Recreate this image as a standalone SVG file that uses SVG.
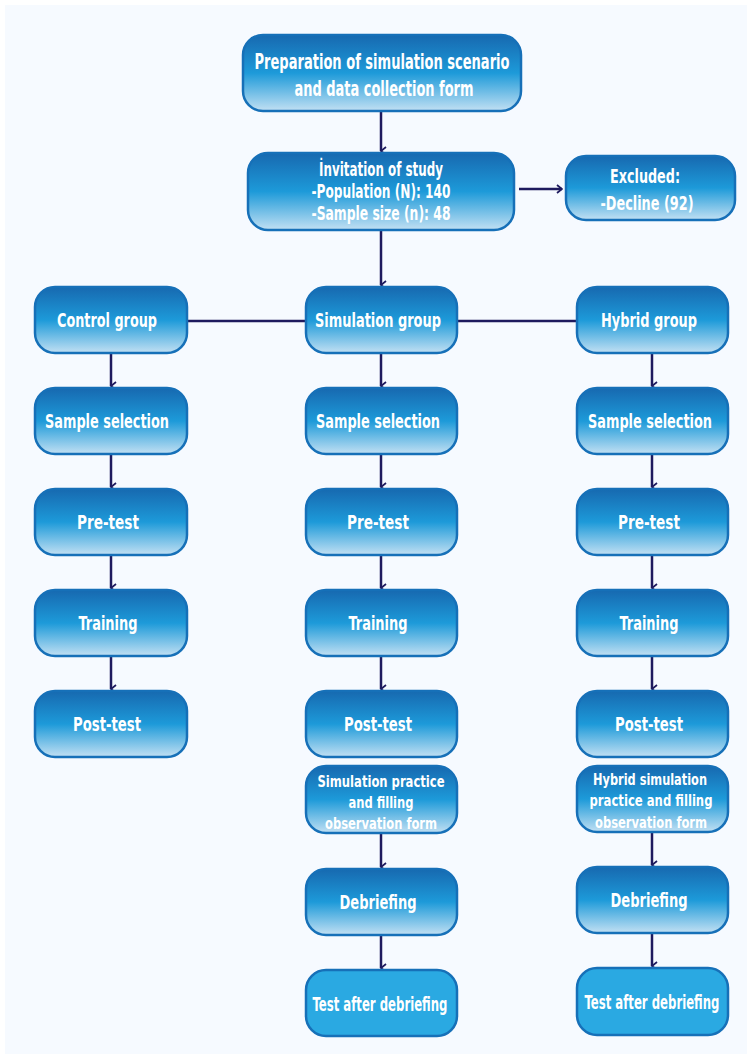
<svg xmlns="http://www.w3.org/2000/svg" width="752" height="1059" viewBox="0 0 752 1059">
<defs>
<linearGradient id="g" x1="0" y1="0" x2="0" y2="1">
<stop offset="0" stop-color="#1769b0"/>
<stop offset="0.5" stop-color="#1d9ad9"/>
<stop offset="1" stop-color="#c2e0f3"/>
</linearGradient>
<marker id="ah" viewBox="0 0 10 10" refX="5" refY="9" markerWidth="10" markerHeight="10" markerUnits="userSpaceOnUse" orient="auto-start-reverse">
<path d="M1,4 L5,9 L9,4" fill="none" stroke="#1e1a5e" stroke-width="1.8"/>
</marker>
<marker id="ahr" viewBox="0 0 10 10" refX="9" refY="5" markerWidth="10" markerHeight="10" markerUnits="userSpaceOnUse" orient="auto">
<path d="M4,1 L9,5 L4,9" fill="none" stroke="#1e1a5e" stroke-width="1.8"/>
</marker>
</defs>
<style>
.b{fill:url(#g);stroke:#1670b8;stroke-width:2.5}
.f{fill:#2aa9e2;stroke:#1670b8;stroke-width:2.5}
.t{font-family:"DejaVu Sans Condensed","DejaVu Sans",sans-serif;font-weight:bold;font-size:20px;fill:#ffffff;text-anchor:middle}
.s{font-size:16px}
.l{font-size:22px}
.c{stroke:#1e1a5e;stroke-width:2.5;fill:none}
.a{marker-end:url(#ah)}
</style>
<rect x="0" y="0" width="752" height="1059" fill="#ffffff"/>
<rect x="5" y="5" width="742" height="1049" fill="#f6faff"/>

<g id="connectors">
<path class="c a" d="M381,112 V151"/>
<path class="c a" d="M381,231 V285"/>
<path class="c" d="M519,189 H562" marker-end="url(#ahr)"/>
<path class="c" d="M187,321 H306 M457,321 H577"/>
<path class="c a" d="M111,353 V386"/>
<path class="c a" d="M111,454 V487"/>
<path class="c a" d="M111,555 V588"/>
<path class="c a" d="M111,656 V689"/>
<path class="c a" d="M381,353 V386"/>
<path class="c a" d="M381,454 V487"/>
<path class="c a" d="M381,555 V588"/>
<path class="c a" d="M381,656 V689"/>
<path class="c a" d="M381,833 V867"/>
<path class="c a" d="M381,935 V968"/>
<path class="c a" d="M652,353 V386"/>
<path class="c a" d="M652,454 V487"/>
<path class="c a" d="M652,555 V588"/>
<path class="c a" d="M652,656 V689"/>
<path class="c a" d="M652,832 V865"/>
<path class="c a" d="M652,933 V966"/>
</g>

<g id="prep"><rect class="b" x="243" y="35" width="278" height="76" rx="20"/>
<text class="t l" x="382" y="69" textLength="255" lengthAdjust="spacingAndGlyphs">Preparation of simulation scenario</text>
<text class="t l" x="384" y="96" textLength="179" lengthAdjust="spacingAndGlyphs">and data collection form</text></g>

<g id="invitation"><rect class="b" x="248" y="153" width="266" height="77" rx="20"/>
<text class="t" x="381" y="176" textLength="124" lengthAdjust="spacingAndGlyphs">İnvitation of study</text>
<text class="t" x="381" y="198" textLength="139" lengthAdjust="spacingAndGlyphs">-Population (N): 140</text>
<text class="t" x="381" y="220" textLength="139" lengthAdjust="spacingAndGlyphs">-Sample size (n): 48</text></g>

<g id="excluded"><rect class="b" x="566" y="156" width="169" height="64" rx="20"/>
<text class="t" x="645" y="183" textLength="70" lengthAdjust="spacingAndGlyphs">Excluded:</text>
<text class="t" x="647" y="210" textLength="93" lengthAdjust="spacingAndGlyphs">-Decline (92)</text></g>

<g id="control-group"><rect class="b" x="35" y="287" width="152" height="66" rx="20"/>
<text class="t" x="107" y="327" textLength="100" lengthAdjust="spacingAndGlyphs">Control group</text></g>
<g id="control-sample"><rect class="b" x="35" y="388" width="152" height="66" rx="20"/>
<text class="t" x="107" y="428" textLength="124" lengthAdjust="spacingAndGlyphs">Sample selection</text></g>
<g id="control-pretest"><rect class="b" x="35" y="489" width="152" height="66" rx="20"/>
<text class="t" x="108" y="529" textLength="62" lengthAdjust="spacingAndGlyphs">Pre-test</text></g>
<g id="control-training"><rect class="b" x="35" y="590" width="152" height="66" rx="20"/>
<text class="t" x="108" y="630" textLength="59" lengthAdjust="spacingAndGlyphs">Training</text></g>
<g id="control-posttest"><rect class="b" x="35" y="691" width="152" height="66" rx="20"/>
<text class="t" x="107" y="731" textLength="68" lengthAdjust="spacingAndGlyphs">Post-test</text></g>

<g id="sim-group"><rect class="b" x="306" y="287" width="151" height="66" rx="20"/>
<text class="t" x="378" y="327" textLength="126" lengthAdjust="spacingAndGlyphs">Simulation group</text></g>
<g id="sim-sample"><rect class="b" x="306" y="388" width="151" height="66" rx="20"/>
<text class="t" x="378" y="428" textLength="124" lengthAdjust="spacingAndGlyphs">Sample selection</text></g>
<g id="sim-pretest"><rect class="b" x="306" y="489" width="151" height="66" rx="20"/>
<text class="t" x="378" y="529" textLength="62" lengthAdjust="spacingAndGlyphs">Pre-test</text></g>
<g id="sim-training"><rect class="b" x="306" y="590" width="151" height="66" rx="20"/>
<text class="t" x="378" y="630" textLength="59" lengthAdjust="spacingAndGlyphs">Training</text></g>
<g id="sim-posttest"><rect class="b" x="306" y="691" width="151" height="66" rx="20"/>
<text class="t" x="378" y="731" textLength="68" lengthAdjust="spacingAndGlyphs">Post-test</text></g>
<g id="sim-practice"><rect class="b" x="306" y="766" width="151" height="67" rx="20"/>
<text class="t s" x="381" y="787" textLength="127" lengthAdjust="spacingAndGlyphs">Simulation practice</text>
<text class="t s" x="381" y="808" textLength="65" lengthAdjust="spacingAndGlyphs">and filling</text>
<text class="t s" x="381" y="829" textLength="112" lengthAdjust="spacingAndGlyphs">observation form</text></g>
<g id="sim-debriefing"><rect class="b" x="306" y="869" width="151" height="66" rx="20"/>
<text class="t" x="378" y="909" textLength="77" lengthAdjust="spacingAndGlyphs">Debriefing</text></g>
<g id="sim-test"><rect class="f" x="306" y="970" width="151" height="66" rx="20"/>
<text class="t" x="380" y="1011" textLength="135" lengthAdjust="spacingAndGlyphs">Test after debriefing</text></g>

<g id="hyb-group"><rect class="b" x="577" y="287" width="151" height="66" rx="20"/>
<text class="t" x="649" y="327" textLength="96" lengthAdjust="spacingAndGlyphs">Hybrid group</text></g>
<g id="hyb-sample"><rect class="b" x="577" y="388" width="151" height="66" rx="20"/>
<text class="t" x="650" y="428" textLength="124" lengthAdjust="spacingAndGlyphs">Sample selection</text></g>
<g id="hyb-pretest"><rect class="b" x="577" y="489" width="151" height="66" rx="20"/>
<text class="t" x="649" y="529" textLength="62" lengthAdjust="spacingAndGlyphs">Pre-test</text></g>
<g id="hyb-training"><rect class="b" x="577" y="590" width="151" height="66" rx="20"/>
<text class="t" x="649" y="630" textLength="59" lengthAdjust="spacingAndGlyphs">Training</text></g>
<g id="hyb-posttest"><rect class="b" x="577" y="691" width="151" height="66" rx="20"/>
<text class="t" x="649" y="731" textLength="68" lengthAdjust="spacingAndGlyphs">Post-test</text></g>
<g id="hyb-practice"><rect class="b" x="577" y="766" width="151" height="66" rx="20"/>
<text class="t s" x="650" y="785" textLength="114" lengthAdjust="spacingAndGlyphs">Hybrid simulation</text>
<text class="t s" x="651" y="806" textLength="123" lengthAdjust="spacingAndGlyphs">practice and filling</text>
<text class="t s" x="651" y="828" textLength="112" lengthAdjust="spacingAndGlyphs">observation form</text></g>
<g id="hyb-debriefing"><rect class="b" x="577" y="867" width="151" height="66" rx="20"/>
<text class="t" x="649" y="907" textLength="77" lengthAdjust="spacingAndGlyphs">Debriefing</text></g>
<g id="hyb-test"><rect class="f" x="577" y="968" width="151" height="67" rx="20"/>
<text class="t" x="652" y="1009" textLength="135" lengthAdjust="spacingAndGlyphs">Test after debriefing</text></g>
</svg>
